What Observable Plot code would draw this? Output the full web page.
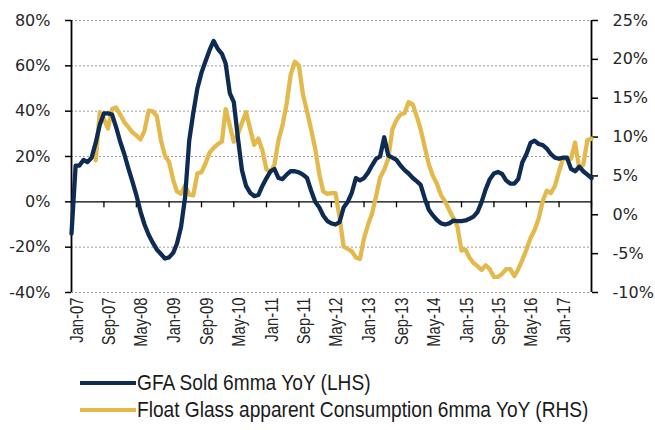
<!DOCTYPE html>
<html>
<head>
<meta charset="utf-8">
<script src="https://cdn.jsdelivr.net/npm/d3@7"></script>
<script src="https://cdn.jsdelivr.net/npm/@observablehq/plot@0.6"></script>
<style>
  body { margin: 0; background: #fff; }
  #wrap { position: relative; width: 655px; height: 430px; overflow: hidden; }
  #legend { position: absolute; left: 80px; top: 369px; font-family: "Liberation Sans", Arial, sans-serif; font-size: 22.5px; color: #1a1a1a; }
  .row { display: flex; align-items: center; height: 27px; white-space: nowrap; }
  .sw { width: 56px; height: 4px; margin-right: 1px; flex: none; }
  .lt { display: inline-block; transform: scaleX(0.85); transform-origin: left center; }
</style>
</head>
<body>
<div id="wrap">
  <div id="chart"></div>
  <div id="legend"></div>
</div>
<script>
// ---- data ----
const firstMonth = "2007-01-01";   // GFA series starts Jan-07
const glassFirstMonth = "2007-07-01"; // Float glass series starts Jul-07
const lastMonth = "2017-09-01";

const seriesNames = ["GFA Sold 6mma YoY (LHS)", "Float Glass apparent Consumption 6mma YoY (RHS)"];
const seriesColors = ["#0e2b53", "#e3b94c"];

// GFA Sold 6mma YoY, % (left axis), monthly Jan-07 .. Sep-17
const gfaSold = [
  -14, 16, 16, 18.5, 17.5, 19.5, 26, 34, 39, 39,
  38.5, 33, 26.5, 21, 15, 9, 3, -4.3, -10, -14.5,
  -18, -21, -23, -25, -24.5, -22.5, -18.5, -11, 2, 27,
  39, 50, 57, 62, 67, 71, 67.5, 65.3, 61, 48,
  44, 28, 14, 7, 4, 2.5, 3, 7, 10.5, 13.5,
  14.5, 10.5, 10, 12, 13.5, 13.5, 13, 12, 10.5, 5,
  0, -2.5, -6, -8.5, -9.5, -10, -9, -2.5, 0, 4,
  10.5, 9.5, 10.5, 13, 16, 19, 20, 28.5, 20.5, 19.5,
  18.5, 16, 14, 12.5, 10.5, 9, 7.5, 1.5, -3.5, -6,
  -8, -9.5, -10, -9.5, -8.3, -8.5, -8.5, -8.2, -7.5, -6.5,
  -4.5, 0, 5.5, 10, 12.5, 13.2, 12.3, 9.5, 8, 8,
  10, 17.5, 21, 26, 27, 25.5, 25, 23.5, 21, 19.5,
  19, 19.5, 19.5, 14.5, 13.5, 15.5, 13.5, 12, 10.5
];

// Float Glass apparent Consumption 6mma YoY, % (right axis), monthly Jul-07 .. Sep-17
const floatGlass = [
  7.0, 13.2, 12.3, 11.1, 13.6, 13.8, 12.9, 11.9, 11.3, 10.6,
  10.2, 9.7, 10.8, 13.4, 13.3, 12.7, 9.6, 7.6, 6.8, 4.5,
  3.0, 2.7, 3.8, 2.6, 2.5, 5.3, 5.5, 6.6, 8.0, 8.6,
  9.1, 9.4, 13.6, 11.5, 9.4, 10.4, 11.8, 13.2, 11.0, 9.0,
  9.8, 8.3, 5.8, 5.6, 6.4, 9.6, 11.5, 14.3, 18.0, 19.7,
  19.2, 15.5, 13.3, 11.0, 8.5, 5.2, 3.0, 2.7, 2.8, 2.8,
  -0.3, -4.1, -4.4, -4.7, -5.5, -5.7, -3.0, -1.2, 0.1, 2.4,
  4.8, 5.8, 7.2, 11.0, 12.2, 12.9, 13.1, 14.5, 14.2, 12.6,
  11.0, 8.7, 6.5, 5.0, 4.0, 2.5, 1.7, 0.6, -0.4, -1.5,
  -4.6, -4.5, -5.5, -6.2, -6.6, -7.1, -6.5, -7.0, -8.0, -8.0,
  -7.6, -7.0, -7.0, -7.9, -7.0, -5.8, -4.5, -3.0, -2.0, -0.5,
  1.8, 3.1, 2.8, 3.7, 5.6, 7.3, 7.2, 7.2, 9.3, 6.0,
  6.4, 9.6, 9.8
];

const leftTicks = [-40, -20, 0, 20, 40, 60, 80];
const rightTicks = [-10, -5, 0, 5, 10, 15, 20, 25];
const xLabelMonths = ["2007-01-01","2007-09-01","2008-05-01","2009-01-01","2009-09-01","2010-05-01",
  "2011-01-01","2011-09-01","2012-05-01","2013-01-01","2013-09-01","2014-05-01","2015-01-01",
  "2015-09-01","2016-05-01","2017-01-01"];
const xTickMonths = [...xLabelMonths, "2017-09-01"];

// ---- build ----
const parse = s => new Date(s + "T00:00:00Z");
const start = parse(firstMonth), end = parse(lastMonth);
const monthsFrom = (s, n) => d3.utcMonth.range(parse(s), d3.utcMonth.offset(parse(s), n));
const gfaRows = monthsFrom(firstMonth, gfaSold.length).map((date, i) => ({date, v: gfaSold[i]}));
const glassRows = monthsFrom(glassFirstMonth, floatGlass.length).map((date, i) => ({date, v: floatGlass[i]}));
const toLeft = d3.scaleLinear([-10, 25], [-40, 80]);

const yFont = "DejaVu Sans, Verdana, sans-serif";
const xFont = "Liberation Sans, Arial, sans-serif";
const textCol = "#262626";

const chart = Plot.plot({
  width: 655,
  height: 362,
  marginLeft: 71,
  marginRight: 64,
  marginTop: 20,
  marginBottom: 70,
  x: {type: "utc", domain: [start, end]},
  y: {domain: [-40, 80]},
  style: {background: "#fff"},
  marks: [
    Plot.gridY(leftTicks.filter(d => d !== 0), {stroke: "#9a9a9a", strokeOpacity: 1, strokeDasharray: "2,2", strokeWidth: 1}),
    Plot.ruleY([0], {stroke: "#000", strokeWidth: 1.3}),
    Plot.ruleX(xTickMonths.map(parse), {y1: 0, y2: 0, insetBottom: -6, stroke: "#000", strokeWidth: 1.3}),
    Plot.ruleX([start, end], {stroke: "#000", strokeWidth: 1.8}),
    Plot.axisY(leftTicks, {anchor: "left", tickSize: 6, tickPadding: 15, tickFormat: d => d + "%", label: null,
      fontSize: 16, fontFamily: yFont, fill: textCol, stroke: "#000", strokeWidth: 1.5}),
    Plot.axisY(rightTicks.map(d => toLeft(d)), {anchor: "right", tickSize: 6, tickPadding: 15,
      tickFormat: d => Math.round(toLeft.invert(d)) + "%", label: null,
      fontSize: 16, fontFamily: yFont, fill: textCol, stroke: "#000", strokeWidth: 1.5}),
    Plot.axisX(xLabelMonths.map(parse), {anchor: "bottom", tickSize: 0, tickPadding: 5, tickRotate: -90, dx: 5,
      tickFormat: d3.utcFormat("%b-%y"), label: null, fontSize: 19, fontFamily: xFont, fill: textCol}),
    Plot.line(glassRows, {x: "date", y: d => toLeft(d.v), stroke: seriesColors[1], strokeWidth: 4.3}),
    Plot.line(gfaRows, {x: "date", y: "v", stroke: seriesColors[0], strokeWidth: 4.3})
  ]
});
document.getElementById("chart").append(chart);

// condense the rotated x labels along their length (narrow face look)
d3.select(chart).selectAll('g[aria-label="x-axis tick label"] text').each(function () {
  const t = this.getAttribute("transform") || "";
  this.setAttribute("transform", t + " scale(0.78,1)");
});

const legend = document.getElementById("legend");
seriesNames.forEach((name, i) => {
  const row = document.createElement("div");
  row.className = "row";
  const sw = document.createElement("div");
  sw.className = "sw";
  sw.style.background = seriesColors[i];
  const t = document.createElement("span");
  t.className = "lt";
  t.textContent = name;
  row.append(sw, t);
  legend.append(row);
});
</script>
</body>
</html>
